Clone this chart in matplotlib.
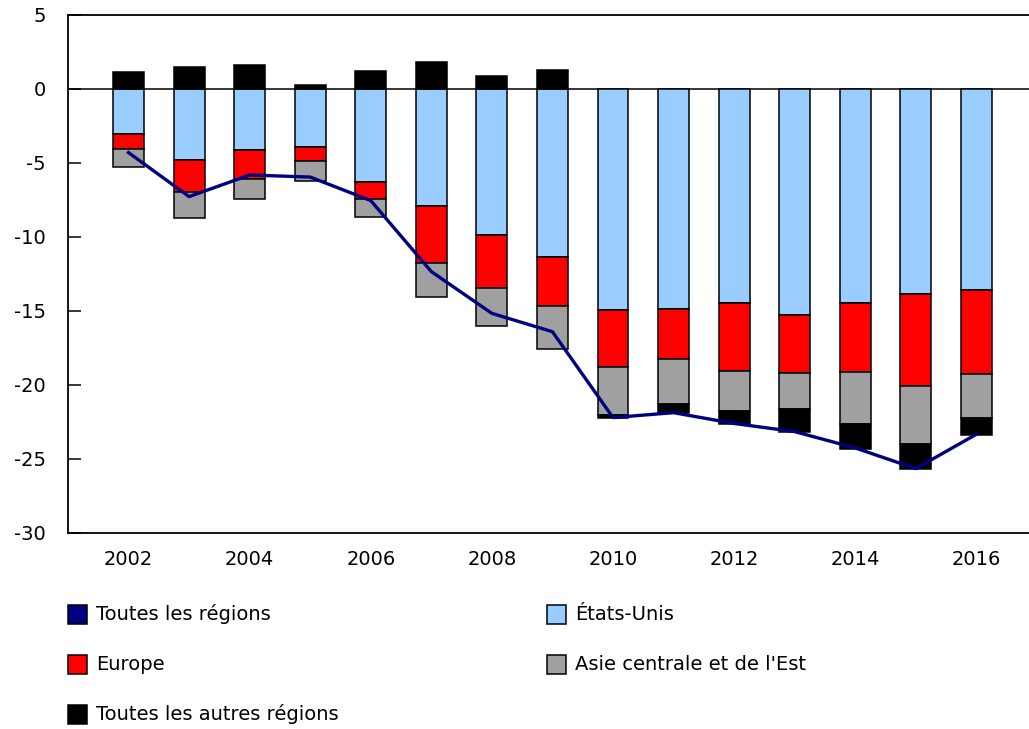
import matplotlib.pyplot as plt
from matplotlib.patches import Rectangle
import numpy as np

years = np.arange(2002, 2017)
etats_unis = [-3.04, -4.80, -4.10, -3.92, -6.28, -7.88, -9.84, -11.33,
              -14.93, -14.89, -14.48, -15.25, -14.44, -13.85, -13.58]
europe = [-0.99, -2.14, -1.96, -0.92, -1.13, -3.85, -3.61, -3.33,
          -3.83, -3.35, -4.57, -3.92, -4.66, -6.22, -5.66]
asie = [-1.26, -1.77, -1.35, -1.35, -1.22, -2.32, -2.59, -2.91,
        -3.27, -3.06, -2.71, -2.47, -3.56, -3.93, -2.99]
autres = [1.13, 1.51, 1.62, 0.29, 1.22, 1.80, 0.90, 1.28,
          -0.17, -0.57, -0.90, -1.54, -1.66, -1.65, -1.15]
toutes = [-4.30, -7.27, -5.81, -5.95, -7.54, -12.34, -15.16, -16.40,
          -22.20, -21.87, -22.60, -23.15, -24.25, -25.65, -23.33]
tick_years = [2002, 2004, 2006, 2008, 2010, 2012, 2014, 2016]

series = [
    ('États-Unis', etats_unis, '#99CCFF'),
    ('Europe', europe, '#FF0000'),
    ("Asie centrale et de l'Est", asie, '#A0A0A0'),
    ('Toutes les autres régions', autres, '#000000'),
]

plt.rcParams['font.family'] = 'DejaVu Sans'
plt.rcParams['font.size'] = 14
plt.rcParams['axes.unicode_minus'] = False

fig = plt.figure(figsize=(10.29, 7.29), dpi=100)
ax = fig.add_axes([68 / 1029, 1 - 533 / 729, 1 - 68 / 1029, (533 - 15) / 729])

pos_bottom = np.zeros(len(years))
neg_bottom = np.zeros(len(years))
for name, vals, color in series:
    vals = np.array(vals)
    bottom = np.where(vals >= 0, pos_bottom, neg_bottom)
    ax.bar(years, vals, bottom=bottom, width=0.51, color=color,
           edgecolor='black', linewidth=1.1, zorder=2)
    pos_bottom += np.where(vals >= 0, vals, 0)
    neg_bottom += np.where(vals < 0, vals, 0)

ax.plot(years, toutes, color='#000080', linewidth=2.4, zorder=3)
ax.axhline(0, color='black', linewidth=1.1, zorder=1)

ax.set_xlim(2001.0, 2016.87)
ax.set_ylim(-30, 5)
ax.set_yticks(range(-30, 6, 5))
ax.set_xticks(tick_years)
ax.set_xticklabels([str(y) for y in tick_years])
ax.tick_params(axis='x', length=0, pad=12)
ax.tick_params(axis='y', direction='in', length=9, width=1.1, pad=16)
ax.spines['right'].set_visible(False)
for s in ['left', 'top', 'bottom']:
    ax.spines[s].set_linewidth(1.3)

# legend drawn by hand to match layout
legend_items = [
    ('Toutes les régions', '#000080', 68, 614),
    ('États-Unis', '#99CCFF', 547, 614),
    ('Europe', '#FF0000', 68, 664),
    ("Asie centrale et de l'Est", '#A0A0A0', 547, 664),
    ('Toutes les autres régions', '#000000', 68, 714),
]
W, H = 1029, 729
for label, color, px, py in legend_items:
    fig.add_artist(Rectangle((px / W, 1 - (py + 9.5) / H), 19 / W, 19 / H,
                             facecolor=color, edgecolor='black', linewidth=1.1,
                             transform=fig.transFigure))
    fig.text((px + 28) / W, 1 - py / H, label, va='center', ha='left', fontsize=14)

fig.savefig('out.png', dpi=100)
